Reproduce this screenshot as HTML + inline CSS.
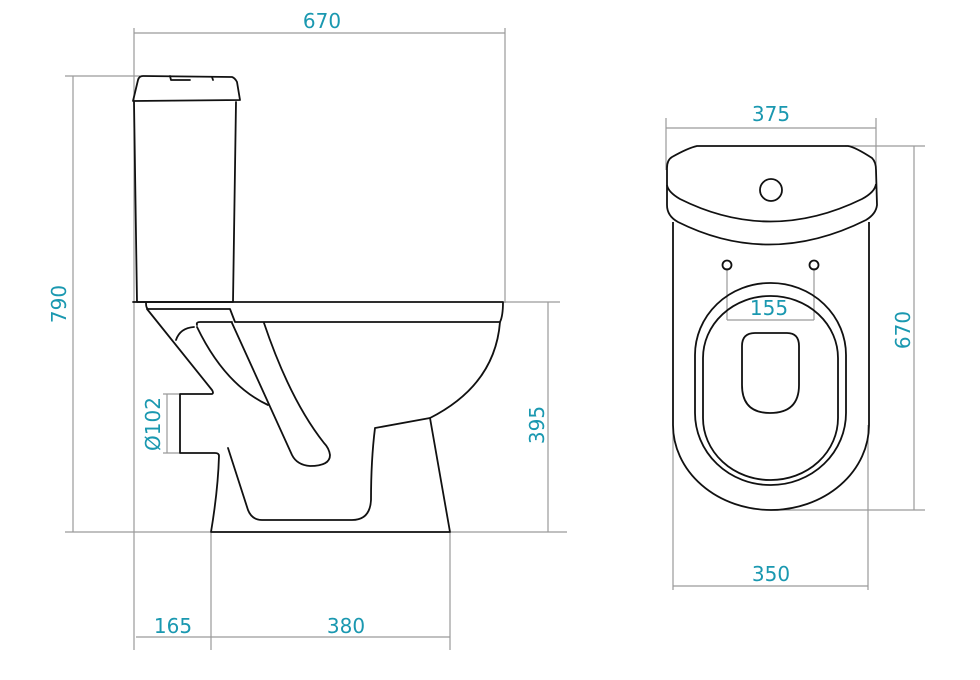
<!DOCTYPE html>
<html><head><meta charset="utf-8"><style>
html,body{margin:0;padding:0;background:#fff;}
svg{display:block;}
text{font-family:"DejaVu Sans","Liberation Sans",sans-serif;font-size:20px;fill:#1a98b0;}
</style></head><body>
<svg width="980" height="680" viewBox="0 0 980 680" xmlns="http://www.w3.org/2000/svg">
<g stroke="#9a9a9a" stroke-width="1.2" fill="none">
  <line x1="134" y1="33" x2="505" y2="33"/>
  <line x1="134" y1="28" x2="134" y2="650"/>
  <line x1="505" y1="28" x2="505" y2="303"/>
  <line x1="73" y1="76" x2="73" y2="532"/>
  <line x1="65" y1="76" x2="140" y2="76"/>
  <line x1="65" y1="532" x2="567" y2="532"/>
  <line x1="548" y1="302" x2="548" y2="532"/>
  <line x1="503" y1="302" x2="560" y2="302"/>
  <line x1="136" y1="637" x2="450" y2="637"/>
  <line x1="211" y1="532" x2="211" y2="650"/>
  <line x1="450" y1="532" x2="450" y2="650"/>
  <line x1="167" y1="394" x2="167" y2="453"/>
  <line x1="163" y1="394" x2="180" y2="394"/>
  <line x1="163" y1="453" x2="180" y2="453"/>
  <line x1="666" y1="128" x2="876" y2="128"/>
  <line x1="666" y1="118" x2="666" y2="170"/>
  <line x1="876" y1="118" x2="876" y2="168"/>
  <line x1="673" y1="586" x2="868" y2="586"/>
  <line x1="673" y1="425" x2="673" y2="590"/>
  <line x1="868" y1="425" x2="868" y2="590"/>
  <line x1="914" y1="146" x2="914" y2="510"/>
  <line x1="845" y1="146" x2="925" y2="146"/>
  <line x1="770" y1="510" x2="925" y2="510"/>
  <line x1="727" y1="268" x2="727" y2="320"/>
  <line x1="814" y1="268" x2="814" y2="320"/>
  <line x1="727" y1="320" x2="814" y2="320"/>
</g>
<g stroke="#111" stroke-width="1.8" fill="none" stroke-linejoin="round" stroke-linecap="round">
  <path d="M133,101 L138,80 Q139,76 143,76 L232,77 Q235,78 237,82 L240,100 Z"/>
  <path d="M170,76 L171,80 L190,80 M212,77 L213,80"/>
  <path d="M134,102 L137,302 L233,302 L236,102"/>
  <path d="M133,302 L503,302 Q503,316 500,322 L235,322 L230,309 L148,309 Q146,308 146,303"/>
  <path d="M500,322 Q495,385 430,418 L450,532 L211,532 Q218,490 219,456 Q219,453 215,453 L180,453 L180,394 L212,394 Q214,393 212,390 L147,309"/>
  <path d="M375,428 L430,418 M375,428 Q371,460 371,500 Q370,520 352,520 L262,520 Q252,520 248,510 L228,448"/>
  <path d="M232,323 L292,455 Q297,465 310,466 Q330,466 330,455 Q329,448 324,443 Q290,400 264,323"/>
  <path d="M197,325 Q196,322 200,322 L232,322"/>
  <path d="M197,327 Q225,385 268,405"/>
  <path d="M176,340 Q180,328 194,327"/>
</g>
<g stroke="#111" stroke-width="1.8" fill="none">
  <path d="M697,146 L848,146 Q855,147 872,158 Q876,162 876,170 L877,205 Q876,214 866,220 Q770,268 678,222 Q667,216 667,205 L667,168 Q667,160 672,157 Q688,148 697,146 Z"/>
  <path d="M667,185 Q668,192 680,199 Q770,244 862,199 Q875,192 876,184"/>
  <circle cx="771" cy="190" r="11"/>
  <path d="M673,222 L673,425 A98,85 0 0 0 869,425 L869,222"/>
  <rect x="695" y="283" width="151" height="202" rx="75" ry="72"/>
  <rect x="703" y="296" width="135" height="184" rx="67" ry="62"/>
  <path d="M742,346 Q742,333 755,333 L787,333 Q799,333 799,346 L799,385 Q799,413 770,413 Q742,413 742,385 Z"/>
  <circle cx="727" cy="265" r="4.5"/>
  <circle cx="814" cy="265" r="4.5"/>
</g>
<text x="322" y="28" text-anchor="middle">670</text>
<text x="173" y="633" text-anchor="middle">165</text>
<text x="346" y="633" text-anchor="middle">380</text>
<text x="771" y="121" text-anchor="middle">375</text>
<text x="771" y="581" text-anchor="middle">350</text>
<text x="769" y="315" text-anchor="middle">155</text>
<text transform="translate(66,304) rotate(-90)" text-anchor="middle">790</text>
<text transform="translate(544,425) rotate(-90)" text-anchor="middle">395</text>
<text transform="translate(910,330) rotate(-90)" text-anchor="middle">670</text>
<text transform="translate(160,424) rotate(-90)" text-anchor="middle">Ø102</text>
</svg>
</body></html>
